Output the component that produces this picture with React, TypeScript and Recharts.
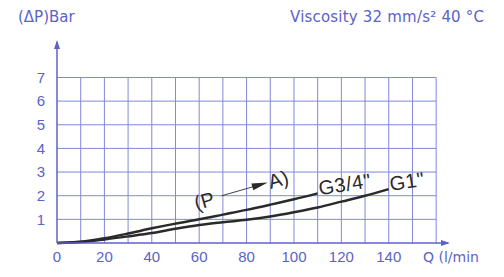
import React from "react";
import {
  LineChart,
  Line,
  XAxis,
  YAxis,
  ReferenceLine,
  ReferenceDot,
  LabelList,
} from "recharts";

const flow = [0, 10, 20, 30, 40, 50, 60, 70, 80, 90, 100, 110, 120, 130, 140];
const g34 = [0, 0.05, 0.2, 0.4, 0.62, 0.82, 1.0, 1.2, 1.4, 1.62, 1.85, 2.1];
const g1 = [0, 0.04, 0.15, 0.28, 0.42, 0.6, 0.76, 0.88, 0.98, 1.12, 1.3, 1.5, 1.75, 2.0, 2.28];
const xTicks = [0, 20, 40, 60, 80, 100, 120, 140];
const yTicks = [1, 2, 3, 4, 5, 6, 7];
const gridX = [10, 20, 30, 40, 50, 60, 70, 80, 90, 100, 110, 120, 130, 140, 150, 160];
const gridY = [1, 2, 3, 4, 5, 6, 7];

const data = flow.map((q, i) => ({
  q,
  g34: i < g34.length ? g34[i] : null,
  g1: g1[i],
}));

const BLUE = "#5b63c6";
const GRID = "#8088d8";
const INK = "#2a2a2a";
const FONT = "'Liberation Sans', Arial, sans-serif";
const WIDE = "'DejaVu Sans', sans-serif";

function endLabel(text: string, lastIndex: number) {
  return (props: any) => {
    if (props.index !== lastIndex) return null;
    const x = Number(props.x) + 2;
    const y = Number(props.y) + 2;
    return (
      <text
        x={x}
        y={y}
        transform={`rotate(-9 ${x} ${y})`}
        fontSize={20}
        letterSpacing={0.5}
        fontFamily={FONT}
        fill={INK}
      >
        {text}
      </text>
    );
  };
}

const PALabel = (props: any) => {
  const { cx, cy } = props;
  return (
    <g transform={`translate(${cx} ${cy}) rotate(-16)`} fontFamily={FONT} fontSize={20} fill={INK}>
      <text x={-54} y={7}>(P</text>
      <line x1={-26} y1={0} x2={12} y2={0} stroke={INK} strokeWidth={0.8} />
      <polygon points="22,0 6,-3.5 6,3.5" fill={INK} />
      <text x={23} y={7}>A)</text>
    </g>
  );
};

const ArrowUp = (props: any) => {
  const { cx, cy } = props;
  return <polygon points={`${cx},${cy - 2} ${cx - 3},${cy + 7} ${cx + 3},${cy + 7}`} fill={BLUE} />;
};

const ArrowRight = (props: any) => {
  const { cx, cy } = props;
  return <polygon points={`${cx + 2},${cy} ${cx - 7},${cy - 3} ${cx - 7},${cy + 3}`} fill={BLUE} />;
};

export default function App() {
  return (
    <div style={{ position: "absolute", left: 0, top: 0, width: 504, height: 277, background: "#fff" }}>
      <div style={{ position: "absolute", left: 18, top: 8, fontFamily: WIDE, fontSize: 15, color: BLUE }}>
        (ΔP)Bar
      </div>
      <div style={{ position: "absolute", left: 290, top: 8, fontFamily: WIDE, fontSize: 15, color: BLUE, letterSpacing: 0.2 }}>
        Viscosity 32 mm/s² 40 °C
      </div>
      <div style={{ position: "absolute", left: 423, top: 249, fontFamily: WIDE, fontSize: 14, color: BLUE }}>
        Q (l/min
      </div>
      <LineChart
        width={504}
        height={277}
        data={data}
        margin={{ top: 42, right: 56, bottom: 4, left: 0 }}
      >
        <XAxis
          dataKey="q"
          type="number"
          domain={[0, 165]}
          ticks={xTicks}
          interval={0}
          tickLine={false}
          tickSize={0}
          tickMargin={8}
          height={30}
          axisLine={{ stroke: BLUE, strokeWidth: 1.5 }}
          tick={{ fill: BLUE, fontSize: 15, fontFamily: FONT }}
        />
        <YAxis
          type="number"
          domain={[0, 8.5]}
          ticks={yTicks}
          interval={0}
          tickLine={false}
          tickSize={0}
          tickMargin={12}
          width={57}
          axisLine={{ stroke: BLUE, strokeWidth: 1.5 }}
          tick={{ fill: BLUE, fontSize: 15, fontFamily: FONT }}
        />
        {gridY.map((v) => (
          <ReferenceLine
            key={`h${v}`}
            segment={[{ x: 0, y: v }, { x: 160, y: v }]}
            stroke={GRID}
            strokeWidth={1}
          />
        ))}
        {gridX.map((v) => (
          <ReferenceLine
            key={`v${v}`}
            segment={[{ x: v, y: 0 }, { x: v, y: 7 }]}
            stroke={GRID}
            strokeWidth={1}
          />
        ))}
        <ReferenceDot x={0} y={8.5} r={0} shape={ArrowUp} />
        <ReferenceDot x={165} y={0} r={0} shape={ArrowRight} />
        <ReferenceDot x={80} y={2.3} r={0} shape={PALabel} />
        <Line
          dataKey="g34"
          type="monotone"
          stroke={INK}
          strokeWidth={2.5}
          dot={false}
          connectNulls={false}
          isAnimationActive={false}
        >
          <LabelList dataKey="g34" content={endLabel('G3/4"', g34.length - 1)} />
        </Line>
        <Line
          dataKey="g1"
          type="monotone"
          stroke={INK}
          strokeWidth={2.5}
          dot={false}
          isAnimationActive={false}
        >
          <LabelList dataKey="g1" content={endLabel('G1"', g1.length - 1)} />
        </Line>
      </LineChart>
    </div>
  );
}
